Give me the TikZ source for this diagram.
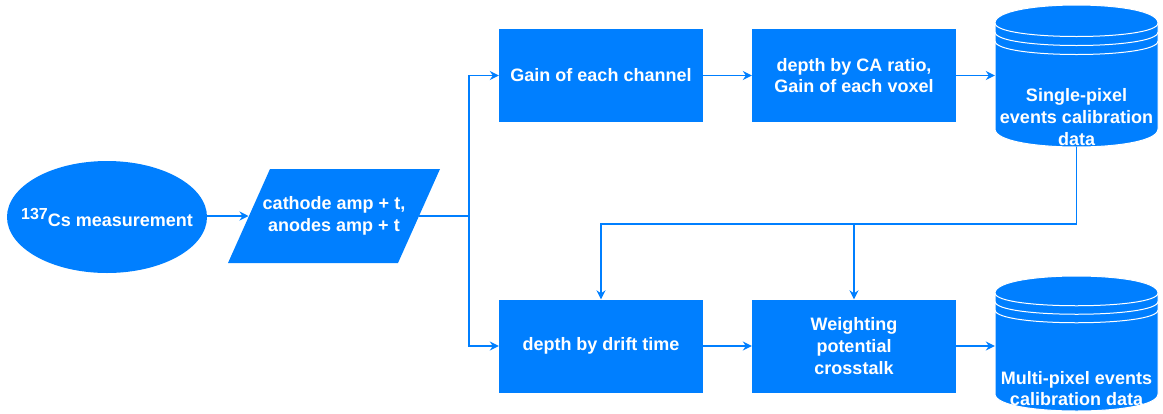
\documentclass[tikz,border=0pt]{standalone}
\usepackage{fontspec}
\setmainfont{Liberation Sans}
\usetikzlibrary{shapes.geometric,arrows.meta}
\definecolor{flowblue}{HTML}{007FFF}

% data store: #1 left, #2 top, #3 width, #4 height, #5 cap depth
\newcommand{\datastore}[5]{%
  \filldraw[fill=flowblue, draw=white, line width=1pt]
    (#1,#2+#5) .. controls (#1,#2-#5/3) and (#1+#3,#2-#5/3) .. (#1+#3,#2+#5)
    -- (#1+#3,#2+#4-#5)
    .. controls (#1+#3,#2+#4+#5/3) and (#1,#2+#4+#5/3) .. (#1,#2+#4-#5) -- cycle;
  \foreach \k in {0,0.5,1}{
    \draw[white, line width=1pt]
      (#1,#2+#5+\k*#5) .. controls (#1,#2+2*#5+\k*#5) and (#1+#3,#2+2*#5+\k*#5) .. (#1+#3,#2+#5+\k*#5);
  }%
}

\begin{document}
\begin{tikzpicture}[x=1pt, y=-1pt,
  every node/.style={font=\fontsize{18}{21.6}\selectfont\bfseries, text=white, align=center},
  procbox/.style={rectangle, fill=flowblue, minimum width=204pt, minimum height=93pt, inner sep=0pt},
  anchorbox/.style={rectangle, minimum width=163pt, inner sep=0pt},
  link/.style={draw=flowblue, line width=1.2pt},
  arrowlink/.style={link, -{Stealth[length=9pt,width=9pt,inset=3pt]}}
]
\useasboundingbox (0,0) rectangle (1163,413);

% source measurement
\node[ellipse, fill=flowblue, minimum width=200pt, minimum height=112pt, inner sep=0pt] (src) at (107,217) {};
\node at (107,217) {\raisebox{7pt}{\fontsize{16}{16}\selectfont 137}Cs measurement};

% recorded signals (parallelogram)
\fill[flowblue] (228,263) -- (270,169) -- (440,169) -- (398,263) -- cycle;
\node (sig) at (334,216) {cathode amp + t,\\anodes amp + t};
\coordinate (sig-in) at (248.5,216);
\coordinate (sig-out) at (419,216);

% processing steps
\node[procbox] (gain) at (601,75.5) {Gain of each channel};
\node[procbox] (voxel) at (854,75.5) {depth by CA ratio,\\Gain of each voxel};
\node[procbox] (drift) at (601,346) {depth by drift time};
\node[procbox] (wpot) at (854,346) {Weighting\\potential\\crosstalk};

% calibration data stores
\datastore{995}{5}{163}{142}{18}
\node[anchorbox, minimum height=142pt] (single) at (1076.5,76) {};
\node at (1076.5,117) {Single-pixel\\events calibration\\data};

\datastore{995}{276}{163}{135}{17}
\node[anchorbox, minimum height=135pt] (multi) at (1076.5,343.5) {};
\node at (1076.5,388.5) {Multi-pixel events\\calibration data};

% connectors
\coordinate (fork) at (469,216);
\coordinate (merge) at (1076.5,224);
\coordinate (tap) at (854,224);

\draw[arrowlink] (src.east |- sig-in) -- (sig-in);
\draw[link] (sig-out) -- (fork);
\draw[arrowlink] (fork) |- (gain.west);
\draw[arrowlink] (fork) |- (drift.west);
\draw[arrowlink] (gain.east) -- (voxel.west);
\draw[arrowlink] (voxel.east) -- (voxel.east -| single.west);
\draw[arrowlink] (single.south) -- (merge) -| (drift.north);
\draw[arrowlink] (tap) -- (wpot.north);
\draw[arrowlink] (drift.east) -- (wpot.west);
\draw[arrowlink] (wpot.east) -- (wpot.east -| multi.west);
\end{tikzpicture}
\end{document}
